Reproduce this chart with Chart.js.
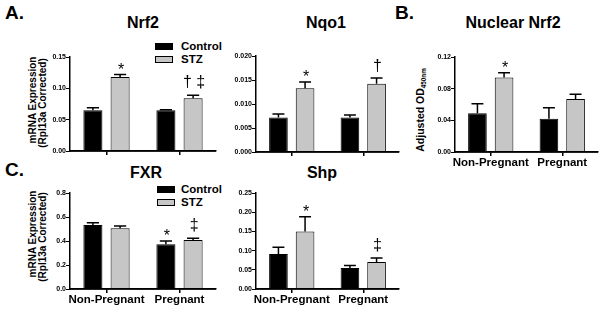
<!DOCTYPE html>
<html>
<head>
<meta charset="utf-8">
<script src="https://cdn.jsdelivr.net/npm/chart.js@4.4.0/dist/chart.umd.min.js"></script>
<style>
  html, body { margin: 0; padding: 0; background: #fff; }
  #fig { position: relative; width: 602px; height: 319px; overflow: hidden;
         font-family: "Liberation Sans", Arial, sans-serif; font-weight: bold; color: #000; }
  #fig canvas { position: absolute; }
  .t { position: absolute; line-height: 1; white-space: nowrap; }
  .ctr { transform: translateX(-50%); }
  .rot { position: absolute; line-height: 1; white-space: nowrap;
         transform: translate(-50%, -50%) rotate(-90deg); }
  .rot sub { font-size: 0.6em; vertical-align: -0.25em; }
  .box { position: absolute; width: 18px; height: 7px; box-sizing: border-box; border: 1px solid #000; }
</style>
</head>
<body>
<div id="fig">
  <div class="t" style="left:5px;top:3px;font-size:19px">A.</div>
  <div class="t" style="left:395px;top:3px;font-size:19px">B.</div>
  <div class="t" style="left:5px;top:160px;font-size:19px">C.</div>

  <div class="t ctr" style="left:143px;top:15px;font-size:16px">Nrf2</div>
  <div class="t ctr" style="left:326px;top:15px;font-size:16px">Nqo1</div>
  <div class="t ctr" style="left:513px;top:15px;font-size:16px">Nuclear Nrf2</div>
  <div class="t ctr" style="left:146px;top:165px;font-size:16px">FXR</div>
  <div class="t ctr" style="left:322px;top:165px;font-size:16px">Shp</div>

  <div class="rot" style="left:33px;top:100px;font-size:10px">mRNA Expression</div>
  <div class="rot" style="left:43px;top:103px;font-size:10px">(Rpl13a Corrected)</div>
  <div class="rot" style="left:33px;top:234px;font-size:10px">mRNA Expression</div>
  <div class="rot" style="left:43px;top:237px;font-size:10px">(Rpl13a Corrected)</div>
  <div class="rot" style="left:421px;top:110px;font-size:10.5px">Adjusted OD<sub>450nm</sub></div>

  <div class="box" style="left:155px;top:43px;background:#000"></div>
  <div class="t" style="left:181px;top:41px;font-size:11.5px" id="legA1"></div>
  <div class="box" style="left:155px;top:56px;background:#c6c6c6"></div>
  <div class="t" style="left:181px;top:54px;font-size:11.5px" id="legA2"></div>
  <div class="box" style="left:157px;top:186px;background:#000"></div>
  <div class="t" style="left:181px;top:184px;font-size:11.5px" id="legC1"></div>
  <div class="box" style="left:157px;top:199px;background:#c6c6c6"></div>
  <div class="t" style="left:181px;top:197px;font-size:11.5px" id="legC2"></div>
</div>

<script>
const groups = ["Non-Pregnant", "Pregnant"];
const seriesNames = ["Control", "STZ"];

// A. Nrf2
const nrf2Control = [0.065, 0.065];
const nrf2ControlErr = [0.004, 0.001];
const nrf2Stz = [0.118, 0.084];
const nrf2StzErr = [0.004, 0.005];
const nrf2ControlMarks = ["", ""];
const nrf2StzMarks = ["*", "† ‡"];
const nrf2Ticks = [0, 0.05, 0.1, 0.15];

// A. Nqo1
const nqo1Control = [0.0072, 0.0072];
const nqo1ControlErr = [0.0007, 0.0005];
const nqo1Stz = [0.0133, 0.0142];
const nqo1StzErr = [0.0013, 0.0012];
const nqo1ControlMarks = ["", ""];
const nqo1StzMarks = ["*", "†"];
const nqo1Ticks = [0, 0.005, 0.01, 0.015, 0.02];

// B. Nuclear Nrf2
const nucControl = [0.049, 0.042];
const nucControlErr = [0.012, 0.014];
const nucStz = [0.094, 0.067];
const nucStzErr = [0.006, 0.006];
const nucControlMarks = ["", ""];
const nucStzMarks = ["*", ""];
const nucTicks = [0, 0.04, 0.08, 0.12];

// C. FXR
const fxrControl = [0.533, 0.372];
const fxrControlErr = [0.02, 0.028];
const fxrStz = [0.506, 0.408];
const fxrStzErr = [0.019, 0.014];
const fxrControlMarks = ["", "*"];
const fxrStzMarks = ["", "‡"];
const fxrTicks = [0, 0.2, 0.4, 0.6, 0.8];

// C. Shp
const shpControl = [0.091, 0.055];
const shpControlErr = [0.018, 0.006];
const shpStz = [0.15, 0.07];
const shpStzErr = [0.038, 0.011];
const shpControlMarks = ["", ""];
const shpStzMarks = ["*", "‡"];
const shpTicks = [0, 0.05, 0.1, 0.15, 0.2, 0.25];

const FONT = '"Liberation Sans", Arial, sans-serif';
const GRAY = "#c6c6c6";

// error bars (upper only) + significance marks above them
const errorBarPlugin = {
  id: "errorBars",
  afterDatasetsDraw(chart) {
    const { ctx } = chart;
    const y = chart.scales.y;
    ctx.save();
    ctx.strokeStyle = "#000";
    ctx.fillStyle = "#000";
    ctx.lineWidth = 1.5;
    ctx.font = "16px " + FONT;
    ctx.textAlign = "center";
    ctx.textBaseline = "alphabetic";
    chart.data.datasets.forEach((ds, i) => {
      chart.getDatasetMeta(i).data.forEach((bar, j) => {
        const top = y.getPixelForValue(ds.data[j] + ds.errors[j]);
        const half = bar.width * 0.32;
        ctx.beginPath();
        ctx.moveTo(bar.x, bar.y);
        ctx.lineTo(bar.x, top);
        ctx.moveTo(bar.x - half, top);
        ctx.lineTo(bar.x + half, top);
        ctx.stroke();
        const mark = ds.marks[j];
        if (mark) {
          const m = ctx.measureText(mark);
          ctx.fillText(mark, bar.x + 1, top - 6 - m.actualBoundingBoxDescent);
        }
      });
    });
    // axis lines on top of the bars
    const a = chart.chartArea;
    ctx.lineWidth = 1.5;
    ctx.beginPath();
    ctx.moveTo(a.left, a.bottom);
    ctx.lineTo(a.right, a.bottom);
    ctx.stroke();
    ctx.restore();
  },
};

const panels = [
  { left: 70, top: 57, right: 216, bottom: 151, ticks: nrf2Ticks, decimals: 2, labels: false,
    control: nrf2Control, controlErr: nrf2ControlErr, controlMarks: nrf2ControlMarks,
    stz: nrf2Stz, stzErr: nrf2StzErr, stzMarks: nrf2StzMarks },
  { left: 256, top: 56, right: 399, bottom: 152, ticks: nqo1Ticks, decimals: 3, labels: false,
    control: nqo1Control, controlErr: nqo1ControlErr, controlMarks: nqo1ControlMarks,
    stz: nqo1Stz, stzErr: nqo1StzErr, stzMarks: nqo1StzMarks },
  { left: 455, top: 57, right: 598, bottom: 152, ticks: nucTicks, decimals: 2, labels: true,
    control: nucControl, controlErr: nucControlErr, controlMarks: nucControlMarks,
    stz: nucStz, stzErr: nucStzErr, stzMarks: nucStzMarks },
  { left: 70, top: 193, right: 216, bottom: 289, ticks: fxrTicks, decimals: 1, labels: true,
    control: fxrControl, controlErr: fxrControlErr, controlMarks: fxrControlMarks,
    stz: fxrStz, stzErr: fxrStzErr, stzMarks: fxrStzMarks },
  { left: 256, top: 193, right: 399, bottom: 289, ticks: shpTicks, decimals: 2, labels: true,
    control: shpControl, controlErr: shpControlErr, controlMarks: shpControlMarks,
    stz: shpStz, stzErr: shpStzErr, stzMarks: shpStzMarks },
];

function makePanel(p) {
  const yW = 34, padTop = 8, padRight = 4;
  const xH = p.labels ? 24 : 8;
  const w = p.right - p.left + yW + padRight;
  const h = p.bottom - p.top + padTop + xH;
  const canvas = document.createElement("canvas");
  canvas.width = w;
  canvas.height = h;
  canvas.style.width = w + "px";
  canvas.style.height = h + "px";
  canvas.style.left = p.left - yW + "px";
  canvas.style.top = p.top - padTop + "px";
  document.getElementById("fig").appendChild(canvas);

  return new Chart(canvas, {
    type: "bar",
    data: {
      labels: groups,
      datasets: [
        { label: seriesNames[0], data: p.control, errors: p.controlErr, marks: p.controlMarks,
          backgroundColor: "#000", borderColor: "#000", borderWidth: 1 },
        { label: seriesNames[1], data: p.stz, errors: p.stzErr, marks: p.stzMarks,
          backgroundColor: GRAY, borderColor: "#000", borderWidth: 1 },
      ],
    },
    options: {
      responsive: false,
      animation: false,
      layout: { padding: { top: padTop, right: padRight, left: 0, bottom: 0 } },
      plugins: { legend: { display: false }, tooltip: { enabled: false } },
      datasets: { bar: { categoryPercentage: 0.745, barPercentage: 0.7 } },
      scales: {
        x: {
          border: { display: true, color: "#000", width: 1.5, z: 1 },
          grid: { drawOnChartArea: false, offset: false, tickLength: 4, color: "#000", lineWidth: 1.5, z: 1 },
          ticks: { display: p.labels, autoSkip: false, color: "#000", padding: 0, maxRotation: 0,
                   font: { family: FONT, size: 11.5, weight: "bold" } },
          afterFit: (s) => { s.height = xH; },
        },
        y: {
          min: 0,
          max: p.ticks[p.ticks.length - 1],
          border: { display: true, color: "#000", width: 1.5, z: 1 },
          grid: { drawOnChartArea: false, tickLength: 4, color: "#000", lineWidth: 1 },
          ticks: { color: "#000", padding: 0, font: { family: FONT, size: 7, weight: "bold" },
                   callback: (v) => Number(v).toFixed(p.decimals) },
          afterBuildTicks: (s) => { s.ticks = p.ticks.map((v) => ({ value: v })); },
          afterFit: (s) => { s.width = yW; },
        },
      },
    },
    plugins: [errorBarPlugin],
  });
}

document.getElementById("legA1").textContent = seriesNames[0];
document.getElementById("legA2").textContent = seriesNames[1];
document.getElementById("legC1").textContent = seriesNames[0];
document.getElementById("legC2").textContent = seriesNames[1];
panels.forEach(makePanel);
</script>
</body>
</html>
